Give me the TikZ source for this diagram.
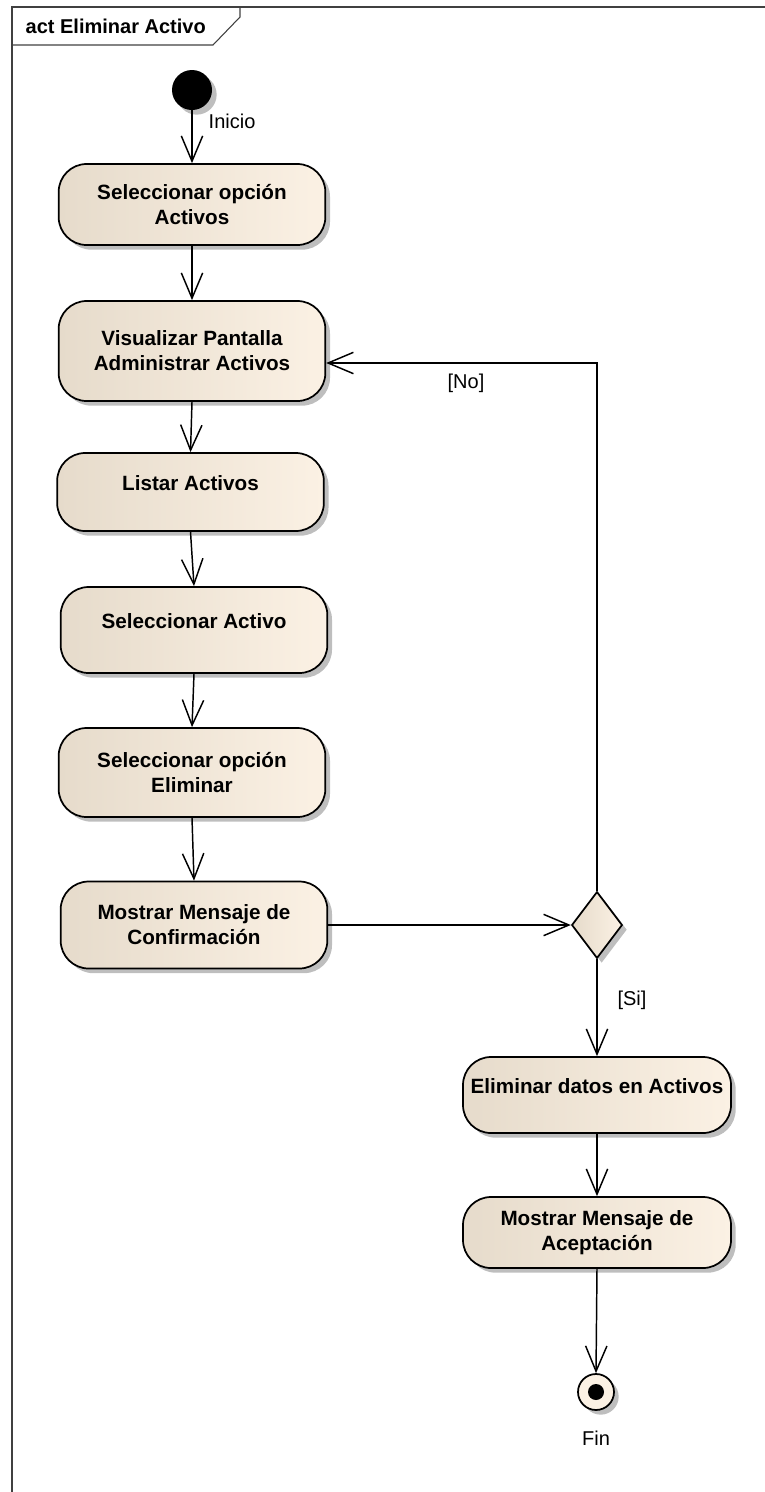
\documentclass[tikz,border=0pt]{standalone}
\usepackage{fontspec}
\setmainfont{Liberation Sans}
\usetikzlibrary{arrows.meta,shapes.geometric,shadows}

\definecolor{actizq}{HTML}{E6DBCB}
\definecolor{actder}{HTML}{FBF1E4}
\definecolor{sombra}{HTML}{BEBEBE}

\tikzset{
  sombreado/.style={drop shadow={shadow xshift=3.5pt,shadow yshift=-3.5pt,fill=sombra,opacity=1}},
  accion/.style={draw,line width=1.3pt,rounded corners=21pt,minimum width=200pt,
    inner sep=0pt,align=center,left color=actizq,right color=actder,sombreado,
    font=\bfseries\fontsize{15.5}{18.75}\selectfont},
  unalinea/.style={text depth=14pt},
  decision/.style={diamond,draw,line width=1.3pt,minimum width=38pt,minimum height=50pt,
    inner sep=0pt,left color=actizq,right color=actder,sombreado},
  flujo/.style={line width=1.1pt,-{Straight Barb[length=19pt,width=16pt,line width=1.1pt]}},
  guarda/.style={font=\fontsize{15}{18}\selectfont},
  marco/.style={draw=black!75,line width=.8pt}
}

\begin{document}
\begin{tikzpicture}[x=0.75pt,y=-0.75pt]
\useasboundingbox (0,0) rectangle (764,1492);
% frame and title tab
\draw[marco] (12,1500) -- (12,7) -- (770,7);
\draw[marco] (12,45) -- (213,45) -- (240,17) -- (240,7);
\node[anchor=base west,font=\bfseries\fontsize{15}{18}\selectfont] (titulo) at (21,33) {act Eliminar Activo};

% initial node
\node[circle,fill=black,minimum size=30pt,inner sep=0pt,sombreado] (ini) at (192,90) {};
\node[guarda,anchor=west] (linicio) at (204,121) {Inicio};

% actions
\node[accion,minimum height=60.75pt] (a1) at (192,204.5) {Seleccionar opción\\Activos};
\node[accion,minimum height=75pt] (a2) at (192,351) {Visualizar Pantalla\\Administrar Activos};
\node[accion,unalinea,minimum height=58.5pt] (a3) at (190.5,492) {Listar Activos};
\node[accion,unalinea,minimum height=64.5pt] (a4) at (194,630) {Seleccionar Activo};
\node[accion,minimum height=66.75pt] (a5) at (192,772.5) {Seleccionar opción\\Eliminar};
\node[accion,minimum height=65.25pt] (a6) at (194,925) {Mostrar Mensaje de\\Confirmación};
\node[decision] (dec) at (597,925) {};
\node[accion,unalinea,minimum width=201pt,minimum height=57pt] (a7) at (597,1095) {Eliminar datos en Activos};
\node[accion,minimum width=201pt,minimum height=53.25pt] (a8) at (597,1232.5) {Mostrar Mensaje de\\Aceptación};

% final node
\node[circle,draw,line width=1.3pt,fill=actder,minimum size=27pt,inner sep=0pt,sombreado] (fin) at (596,1392) {};
\node[circle,fill=black,minimum size=12pt,inner sep=0pt] (finpunto) at (fin) {};
\node[guarda] (lfin) at (596,1438) {Fin};

% guards
\node[guarda] (lno) at (466,383) {[No]};
\node[guarda] (lsi) at (632,1000) {[Si]};

% control flows
\draw[flujo] (ini.south) -- (a1.north);
\draw[flujo] (a1.south) -- (a2.north);
\draw[flujo] (a2.south) -- (a3.north);
\draw[flujo] (a3.south) -- (a4.north);
\draw[flujo] (a4.south) -- (a5.north);
\draw[flujo] (a5.south) -- (a6.north);
\draw[flujo] (a6.east) -- (dec.west);
\draw[flujo] (dec.north) |- ([yshift=-9pt]a2.east);
\draw[flujo] (dec.south) -- (a7.north);
\draw[flujo] (a7.south) -- (a8.north);
\draw[flujo] (a8.south) -- (fin.north);
\end{tikzpicture}
\end{document}
